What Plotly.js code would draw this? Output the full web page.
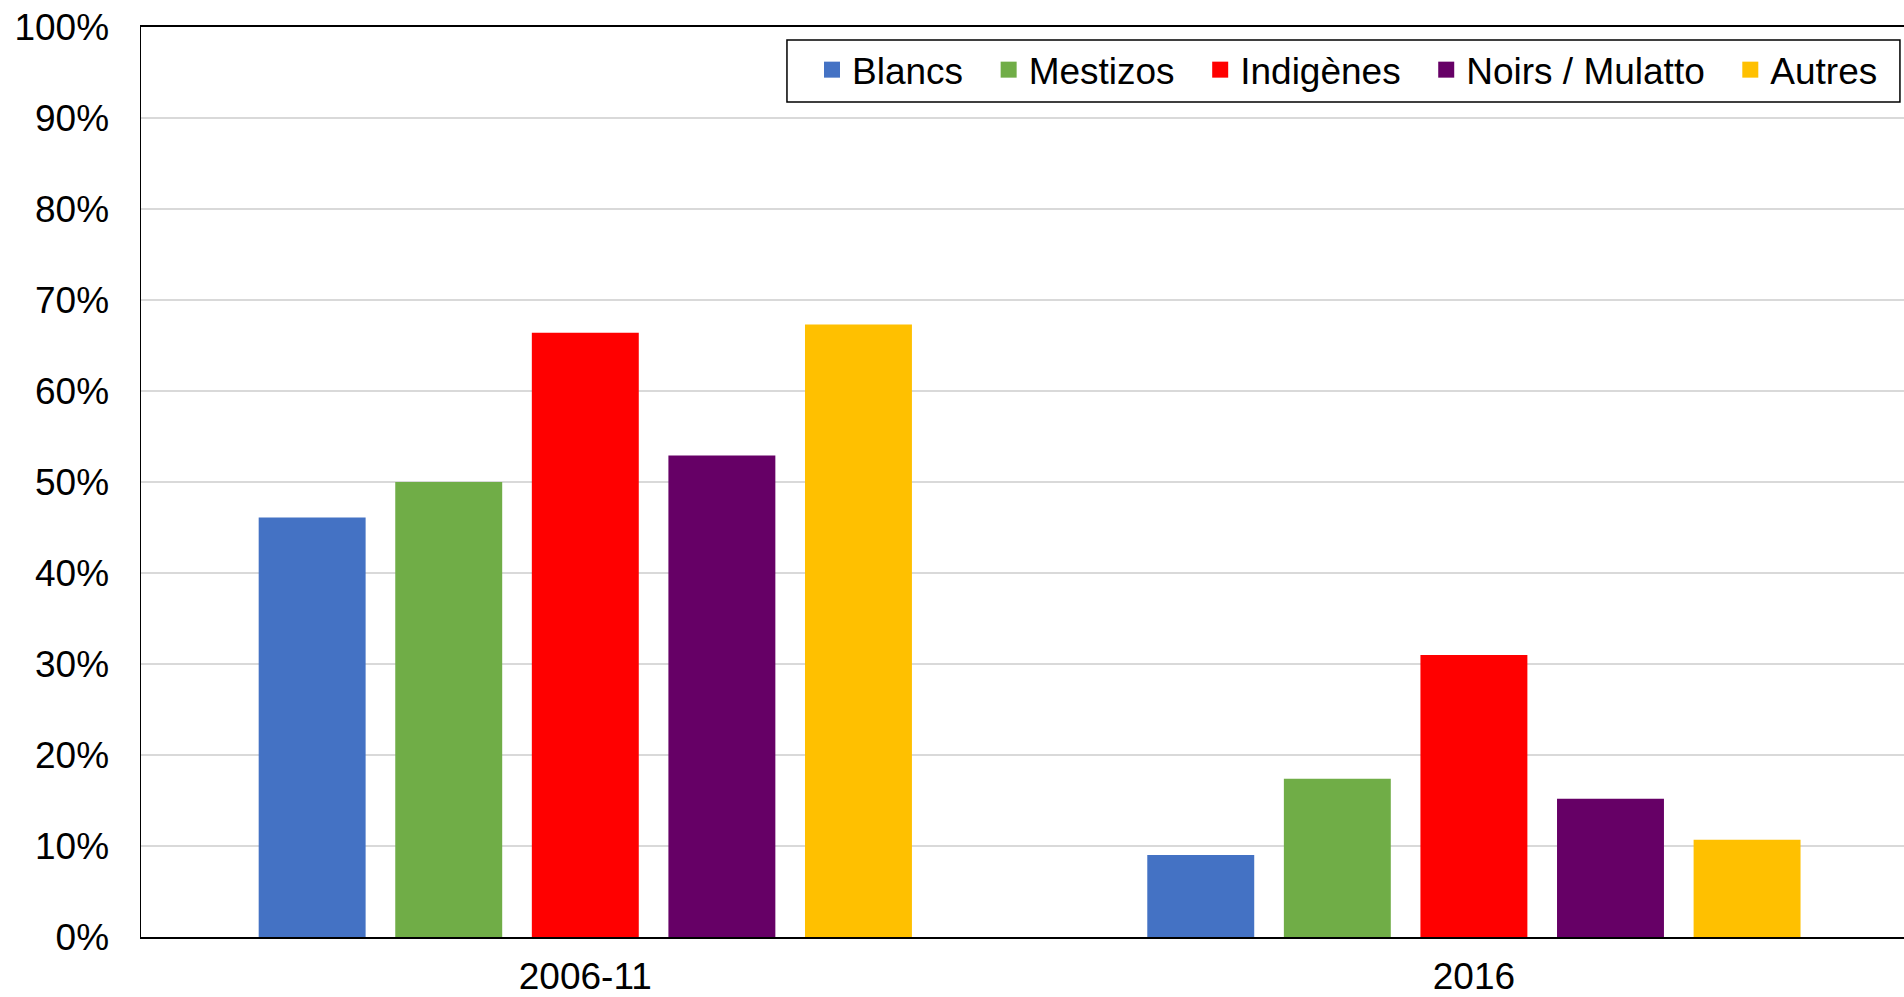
<!DOCTYPE html>
<html>
<head>
<meta charset="utf-8">
<script src="https://cdn.plot.ly/plotly-3.0.1.min.js"></script>
<style>html,body{margin:0;padding:0;background:#fff;}#chart{width:1904px;height:997px;}</style>
</head>
<body>
<div id="chart"></div>
<script>
const categories = ["2006-11", "2016"];
const seriesNames = ["Blancs", "Mestizos", "Indigènes", "Noirs / Mulatto", "Autres"];
const blancs = [46.1, 9.0];
const mestizos = [50.0, 17.4];
const indigenes = [66.4, 31.0];
const noirs = [52.9, 15.2];
const autres = [67.3, 10.7];
const yTicks = [0, 10, 20, 30, 40, 50, 60, 70, 80, 90, 100];
const colors = ["#4472C4", "#70AD47", "#FF0000", "#660066", "#FFC000"];

const values = [blancs, mestizos, indigenes, noirs, autres];
const pad = "\u00a0\u00a0";
const barTraces = values.map((v, i) => ({
  type: "bar",
  x: categories,
  y: v,
  name: seriesNames[i],
  showlegend: false,
  marker: {color: colors[i], line: {width: 0}}
}));
const legendTraces = seriesNames.map((n, i) => ({
  type: "scatter",
  mode: "markers",
  x: [categories[0]],
  y: [null],
  name: n + (i < seriesNames.length - 1 ? pad : ""),
  marker: {color: colors[i], symbol: "square", size: 16},
  hoverinfo: "skip"
}));

const font = {family: "Liberation Sans, Arial, sans-serif", size: 37, color: "#000"};

const layout = {
  width: 1904,
  height: 997,
  margin: {l: 141, r: 0, t: 27, b: 60},
  paper_bgcolor: "#fff",
  plot_bgcolor: "#fff",
  font: font,
  barmode: "group",
  bargap: 0.2315,
  bargroupgap: 0.217,
  showlegend: true,
  legend: {
    orientation: "h",
    xref: "paper", yref: "paper",
    x: 0.9881, xanchor: "right",
    y: 0.9867, yanchor: "top",
    bgcolor: "rgba(0,0,0,0)",
    borderwidth: 0,
    font: font,
    traceorder: "normal",
    itemsizing: "trace"
  },
  shapes: [{
    type: "rect", xref: "paper", yref: "paper",
    x0: 0.3664, x1: 0.9977, y0: 0.9176, y1: 0.9857,
    line: {color: "#000", width: 1.5},
    fillcolor: "#fff",
    layer: "above"
  }],
  xaxis: {
    type: "category",
    range: [-0.5, 1.484],
    showline: true,
    linecolor: "#000",
    linewidth: 2,
    mirror: true,
    showgrid: false,
    ticks: "",
    ticklabelstandoff: 6,
    tickfont: font,
    automargin: false,
    fixedrange: true
  },
  yaxis: {
    range: [0, 100],
    tickvals: yTicks,
    ticktext: yTicks.map(t => t + "%"),
    showline: true,
    linecolor: "#000",
    linewidth: 1.5,
    showgrid: true,
    gridcolor: "#d9d9d9",
    gridwidth: 1.5,
    zeroline: false,
    ticks: "",
    ticklabelstandoff: 23,
    tickfont: font,
    automargin: false,
    fixedrange: true
  }
};

Plotly.newPlot("chart", barTraces.concat(legendTraces), layout, {displayModeBar: false, staticPlot: true});
</script>
</body>
</html>
